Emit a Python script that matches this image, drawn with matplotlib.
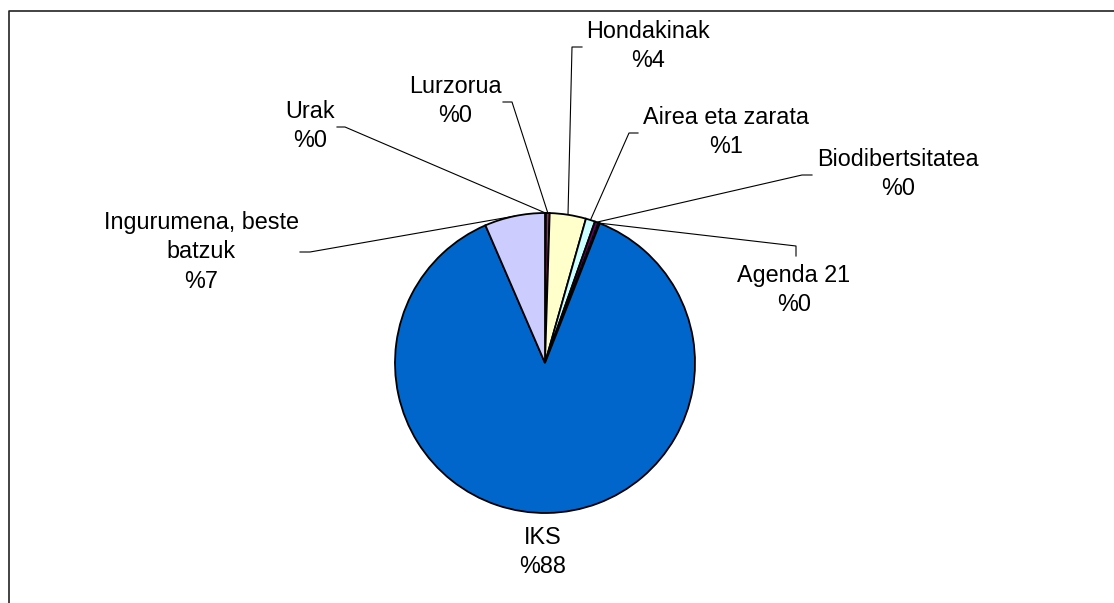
import numpy as np
import matplotlib
matplotlib.use("Agg")
import matplotlib.pyplot as plt

# ---- data ----
categories = ["Urak", "Lurzorua", "Hondakinak", "Airea eta zarata",
              "Biodibertsitatea", "Agenda 21", "IKS", "Ingurumena, beste\nbatzuk"]
values = [0.1, 0.4, 3.9, 1.0, 0.4, 0.15, 87.55, 6.5]
colors = ["#9999FF", "#993366", "#FFFFCC", "#CCFFFF",
          "#660066", "#FF8080", "#0066CC", "#CCCCFF"]

W, H = 1114, 603
def Y(py):
    return H - py

# layout: label centre (pixels) and leader elbow points (pixels)
label_pos = [(310, 126), (455, 101), (648, 46), (726, 132),
             (898, 174), (794, 290), (543, 552), (201, 252)]
leaders = [
    [(337, 127), (345, 127)],
    [(503, 102), (512, 102)],
    [(582, 47), (572, 47)],
    [(638, 133), (629, 133)],
    [(812, 175), (802, 175)],
    [(796, 256), (796, 246)],
    None,
    [(300, 252), (310, 252)],
]

plt.rcParams['font.family'] = ['Liberation Sans', 'DejaVu Sans']
fig = plt.figure(figsize=(W / 100, H / 100), dpi=100)
ax = fig.add_axes([0, 0, 1, 1])

cx, cy, R = 545, 363, 150
wedges, _ = ax.pie(values, colors=colors, startangle=90, counterclock=False,
                   center=(cx, Y(cy)), radius=R,
                   wedgeprops=dict(edgecolor="black", linewidth=1.3))
ax.set_xlim(0, W)
ax.set_ylim(0, H)
ax.set_aspect('equal')
ax.axis('off')

total = sum(values)
for i, (name, v) in enumerate(zip(categories, values)):
    pct = int(np.floor(v * 100.0 / total + 0.5 + 1e-9))
    lx, ly = label_pos[i]
    ax.text(lx, Y(ly), f"{name}\n%{pct}", ha="center", va="center",
            fontsize=16.8, linespacing=1.38, color="black")
    if leaders[i] is not None:
        w = wedges[i]
        th = np.deg2rad((w.theta1 + w.theta2) / 2)
        ex, ey = cx + R * np.cos(th), Y(cy) + R * np.sin(th)
        xs = [p[0] for p in leaders[i]] + [ex]
        ys = [Y(p[1]) for p in leaders[i]] + [ey]
        ax.plot(xs, ys, color="black", linewidth=0.8, zorder=0.5)

# chart area frame (extends past right and bottom edges)
ax.plot([9, 9, W + 5], [-5, Y(11), Y(11)], color="#222222", linewidth=1.2,
        clip_on=False)

fig.savefig("out.png", dpi=100)
